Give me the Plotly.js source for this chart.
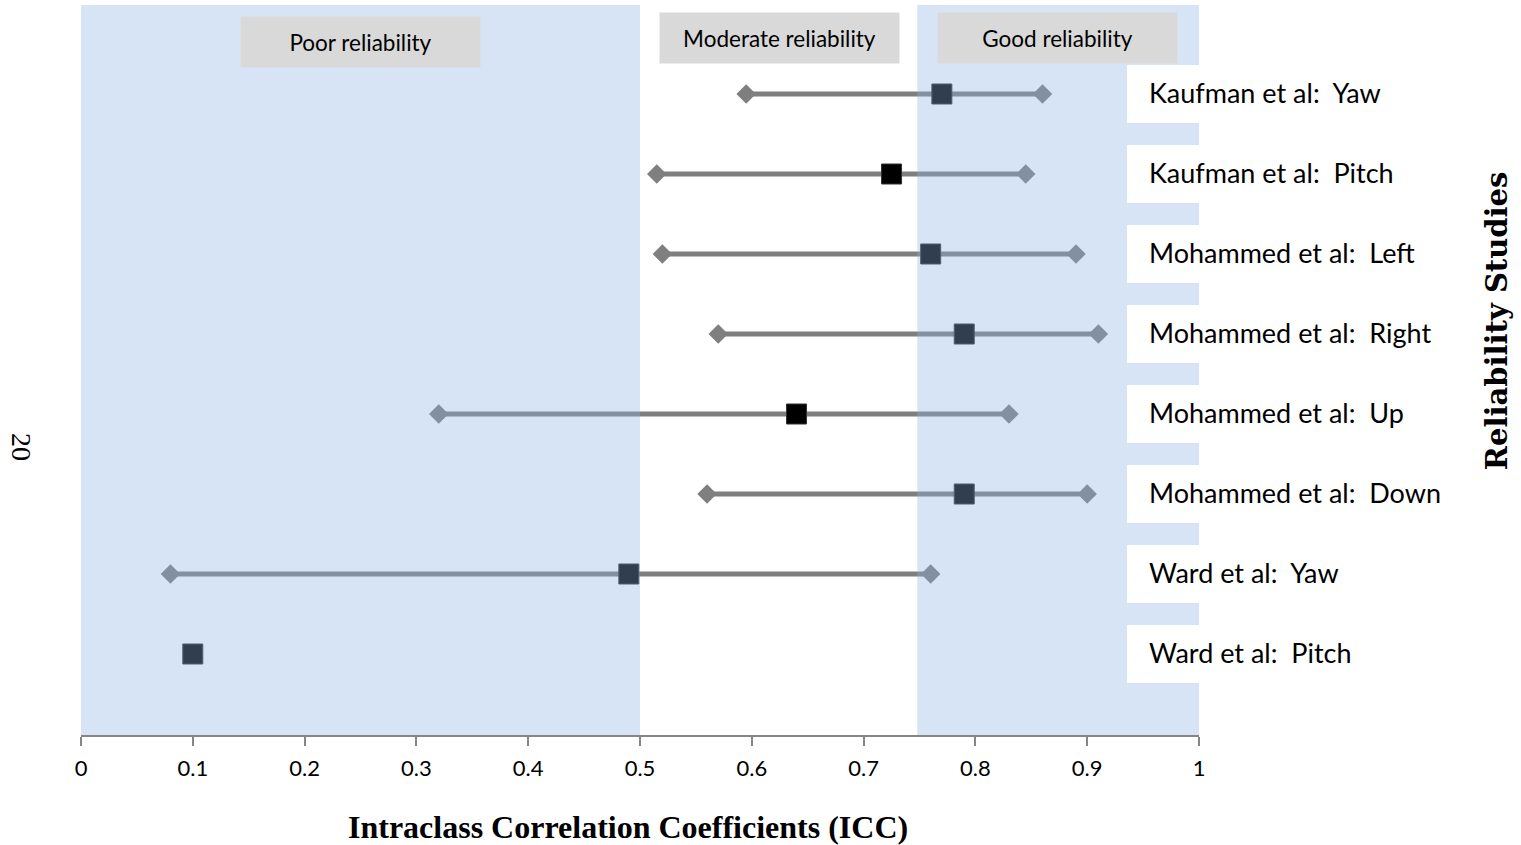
<!DOCTYPE html>
<html>
<head>
<meta charset="utf-8">
<script src="https://cdn.plot.ly/plotly-3.0.1.min.js"></script>
<style>html,body{margin:0;padding:0;background:#fff;}#chart{width:1521px;height:845px;}</style>
</head>
<body>
<div id="chart"></div>
<script>
// Studies (top to bottom)
const studies = [
  "Kaufman et al:  Yaw",
  "Kaufman et al:  Pitch",
  "Mohammed et al:  Left",
  "Mohammed et al:  Right",
  "Mohammed et al:  Up",
  "Mohammed et al:  Down",
  "Ward et al:  Yaw",
  "Ward et al:  Pitch"
];
// ICC point estimates
const icc = [0.77, 0.725, 0.76, 0.79, 0.64, 0.79, 0.49, 0.10];
// 95% CI lower and upper bounds
const ciLow = [0.595, 0.515, 0.52, 0.57, 0.32, 0.56, 0.08, null];
const ciHigh = [0.86, 0.845, 0.89, 0.91, 0.83, 0.90, 0.76, null];
// Reliability zones
const zoneNames = ["Poor reliability", "Moderate reliability", "Good reliability"];
const zoneBounds = [[0, 0.5], [0.5, 0.748], [0.748, 1.0]];
const xTicks = [0, 0.1, 0.2, 0.3, 0.4, 0.5, 0.6, 0.7, 0.8, 0.9, 1];
const xTickText = ["0", "0.1", "0.2", "0.3", "0.4", "0.5", "0.6", "0.7", "0.8", "0.9", "1"];

const n = studies.length;
const yPos = studies.map((s, i) => n - i);

// line segments
const lx = [], ly = [];
const dx = [], dy = [];
for (let i = 0; i < n; i++) {
  if (ciLow[i] !== null && ciHigh[i] !== null) {
    lx.push(ciLow[i], ciHigh[i], null);
    ly.push(yPos[i], yPos[i], null);
    dx.push(ciLow[i], ciHigh[i]);
    dy.push(yPos[i], yPos[i]);
  }
}

const traces = [
  {x: lx, y: ly, mode: 'lines', line: {color: '#7f7f7f', width: 5}, hoverinfo: 'skip', showlegend: false},
  {x: dx, y: dy, mode: 'markers', marker: {symbol: 'diamond', size: 15, color: '#7f7f7f', line: {width: 0}}, showlegend: false},
  {x: icc, y: yPos, mode: 'markers', text: studies, marker: {symbol: 'square', size: 20, color: '#000000', line: {width: 1, color: '#333'}}, showlegend: false}
];

const shapes = [];
// translucent blue overlay zones (poor & good)
[0, 2].forEach(k => {
  shapes.push({type: 'rect', xref: 'x', yref: 'paper', x0: zoneBounds[k][0], x1: zoneBounds[k][1], y0: 0, y1: 1,
    fillcolor: '#8db3e2', opacity: 0.35, line: {width: 0}, layer: 'above'});
});
// white label boxes
for (let i = 0; i < n; i++) {
  shapes.push({type: 'rect', xref: 'x', yref: 'y', x0: 0.9356, x1: 1.0, y0: yPos[i] - 0.3625, y1: yPos[i] + 0.3625,
    fillcolor: '#ffffff', line: {width: 0}, layer: 'above'});
}

const annotations = [];
for (let i = 0; i < n; i++) {
  annotations.push({x: 0.9535, y: yPos[i] + 0.02, xref: 'x', yref: 'y', xanchor: 'left', yanchor: 'middle',
    text: studies[i], showarrow: false, font: {family: 'Lato, sans-serif', size: 27, color: '#000'}});
}
// zone header boxes
const headerPos = [[0.25, 8.65], [0.6248, 8.706], [0.8734, 8.706]];
zoneNames.forEach((z, k) => {
  annotations.push({x: headerPos[k][0], y: headerPos[k][1], xref: 'x', yref: 'y', xanchor: 'center', yanchor: 'middle',
    text: z, showarrow: false, bgcolor: '#d9d9d9', width: 239, height: 50, borderpad: 0, align: 'center', valign: 'middle',
    font: {family: 'Lato, sans-serif', size: 22.5, color: '#000'}});
});
// axis titles
annotations.push({x: 0.489, y: -0.126, xref: 'paper', yref: 'paper', xanchor: 'center', yanchor: 'middle',
  text: '<b>Intraclass Correlation Coefficients (ICC)</b>', showarrow: false,
  font: {family: 'Liberation Serif, Times New Roman, serif', size: 32, color: '#000'}});
annotations.push({x: 1.2666, y: 0.567, xref: 'paper', yref: 'paper', xanchor: 'center', yanchor: 'middle', textangle: -90,
  text: '<b>Reliability Studies</b>', showarrow: false,
  font: {family: 'DejaVu Serif, serif', size: 29, color: '#000'}});
annotations.push({x: -0.0528, y: 0.3945, xref: 'paper', yref: 'paper', xanchor: 'center', yanchor: 'middle', textangle: 90,
  text: '20', showarrow: false,
  font: {family: 'Liberation Serif, serif', size: 28, color: '#000'}});

const layout = {
  width: 1521, height: 845,
  margin: {l: 81, r: 322, t: 5, b: 110, pad: 0},
  paper_bgcolor: '#ffffff', plot_bgcolor: '#ffffff',
  showlegend: false,
  xaxis: {range: [0, 1], tickvals: xTicks, ticktext: xTickText, showgrid: false, zeroline: false,
    showline: true, linecolor: '#868686', linewidth: 2, ticks: 'outside', ticklen: 9, tickwidth: 2, tickcolor: '#868686',
    ticklabelstandoff: 4,
    tickfont: {family: 'Lato, sans-serif', size: 22, color: '#000'}, fixedrange: true},
  yaxis: {range: [-0.0125, 9.1125], showgrid: false, zeroline: false, showline: false, showticklabels: false, ticks: '', fixedrange: true},
  shapes: shapes,
  annotations: annotations
};

Plotly.newPlot('chart', traces, layout, {displayModeBar: false, staticPlot: true});
</script>
</body>
</html>
